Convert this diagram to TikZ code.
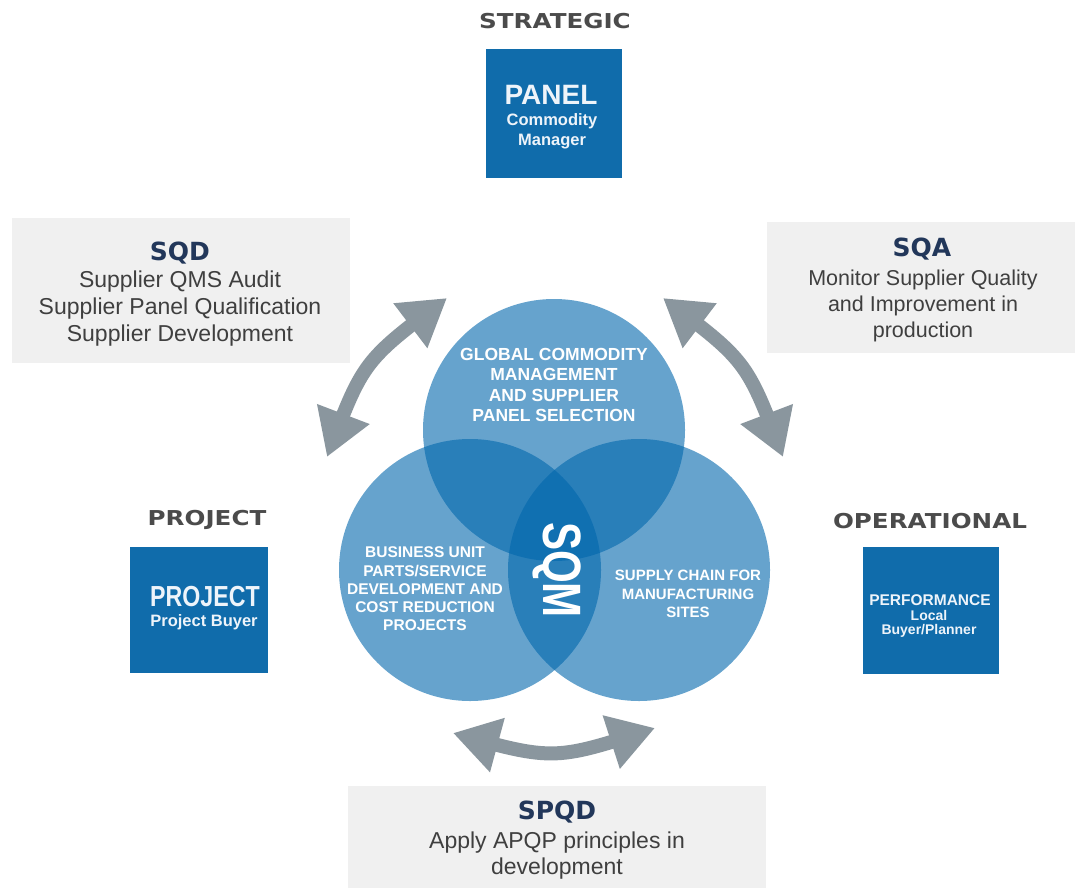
\documentclass[tikz,border=0pt]{standalone}
\usepackage{fontspec}
\setmainfont{Liberation Sans}
\newfontfamily\condfont[FakeStretch=0.8]{Liberation Sans}
\newfontfamily\sqmfont[FakeStretch=0.78]{Liberation Sans}
\newfontfamily\headfont[FakeStretch=1.2]{DejaVu Sans}
\newfontfamily\titlefont{DejaVu Sans}
\usetikzlibrary{arrows.meta,bending}
\definecolor{boxblue}{HTML}{106CAB}
\definecolor{venn}{RGB}{0,102,172}
\definecolor{arrowgray}{HTML}{8A969E}
\definecolor{panelgray}{HTML}{F0F0F0}
\definecolor{headgray}{HTML}{4B4B4B}
\definecolor{titleblue}{HTML}{22375A}
\definecolor{bodygray}{HTML}{3F3F3F}
\definecolor{boxtext}{HTML}{EEF4FA}
\newcommand{\fsz}[2]{\fontsize{#1}{#2}\selectfont}
\begin{document}
\begin{tikzpicture}[x=1pt,y=-1pt,
  headlbl/.style={font=\headfont\bfseries\fsz{20.5}{24}, text=headgray, inner sep=0},
  bluebox/.style={fill=boxblue, draw=none, inner sep=0},
  greybox/.style={fill=panelgray, draw=none, inner sep=0},
  venncirc/.style={circle, fill=venn, fill opacity=0.6, draw=none, minimum size=262pt, inner sep=0},
  venntext/.style={text=white, align=center, inner sep=0},
  boxlbl/.style={text=boxtext, align=center, inner sep=0},
  gtitle/.style={font=\titlefont\bfseries\fsz{25}{30}, text=titleblue, inner sep=0},
  gbody/.style={text=bodygray, align=center, inner sep=0},
  dblarrow/.style={draw=arrowgray, line width=14pt, {Triangle[flex,width=53pt,length=46pt]}-{Triangle[flex,width=53pt,length=46pt]}}
]
\useasboundingbox (0,0) rectangle (1075,888);

% grey panels
\node[greybox, minimum width=338pt, minimum height=145pt] (sqdbox) at (181,290.5) {};
\node[greybox, minimum width=308pt, minimum height=131pt] (sqabox) at (921,287.5) {};
\node[greybox, minimum width=418pt, minimum height=102pt] (spqdbox) at (557,837) {};

\node[gtitle] (sqdt) at (180,253) {SQD};
\node[gbody, font=\fsz{23}{27}] (sqdb) at (180,308.5) {Supplier QMS Audit\\Supplier Panel Qualification\\Supplier Development};
\node[gtitle] (sqat) at (922,249) {SQA};
\node[gbody, font=\fsz{21.5}{26}] (sqab) at (923,306) {Monitor Supplier Quality\\and Improvement in\\production};
\node[gtitle] (spqdt) at (557,812) {SPQD};
\node[gbody, font=\fsz{23}{26}] (spqdb) at (557,856) {Apply APQP principles in\\development};

% blue boxes
\node[headlbl] (strat) at (555,21) {STRATEGIC};
\node[bluebox, minimum width=136pt, minimum height=128pt] (panel) at (553.5,113.5) {};
\node[boxlbl, font=\bfseries\fsz{28}{30}] (panelt) at (551,95) {PANEL};
\node[boxlbl, font=\bfseries\fsz{16.5}{20}] (panelb) at (552,131) {Commodity\\Manager};

\node[headlbl] (projl) at (207,520) {PROJECT};
\node[bluebox, minimum width=138pt, minimum height=126pt] (proj) at (199,610) {};
\node[boxlbl, font=\condfont\bfseries\fsz{29}{30}] (projt) at (205,597) {PROJECT};
\node[boxlbl, font=\bfseries\fsz{16.5}{18}] (projb) at (204,622) {Project Buyer};

\node[headlbl] (opl) at (930,521) {OPERATIONAL};
\node[bluebox, minimum width=136pt, minimum height=127pt] (perf) at (931,610.5) {};
\node[boxlbl, font=\bfseries\fsz{15.5}{17}] (perft) at (930,600) {PERFORMANCE};
\node[boxlbl, font=\bfseries\fsz{14}{14}] (perfb) at (929,624) {Local\\Buyer/Planner};

% venn
\node[venncirc] (ctop) at (554,430) {};
\node[venncirc] (cleft) at (470,570) {};
\node[venncirc] (cright) at (639,570) {};

\node[venntext, font=\bfseries\fsz{17.5}{20.5}] (ttop) at (554,385) {GLOBAL COMMODITY\\MANAGEMENT\\AND SUPPLIER\\PANEL SELECTION};
\node[venntext, font=\bfseries\fsz{15.5}{18.3}] (tleft) at (425,589) {BUSINESS UNIT\\PARTS/SERVICE\\DEVELOPMENT AND\\COST REDUCTION\\PROJECTS};
\node[venntext, font=\bfseries\fsz{15}{18.5}] (tright) at (688,594) {SUPPLY CHAIN FOR\\MANUFACTURING\\SITES};
\node[venntext, font=\sqmfont\bfseries\fsz{54}{54}, rotate=-90] (sqm) at (557,570) {SQM};

% arrows
\coordinate (a1s) at (327,457);
\coordinate (a1e) at (447,298);
\coordinate (a2s) at (663,298);
\coordinate (a2e) at (783,457);
\coordinate (a3s) at (453,733);
\coordinate (a3e) at (655,728);
\draw[dblarrow] (a1s) .. controls (363,361) .. (a1e);
\draw[dblarrow] (a2s) .. controls (747,361) .. (a2e);
\draw[dblarrow] (a3s) .. controls (554,761) .. (a3e);
\end{tikzpicture}
\end{document}
